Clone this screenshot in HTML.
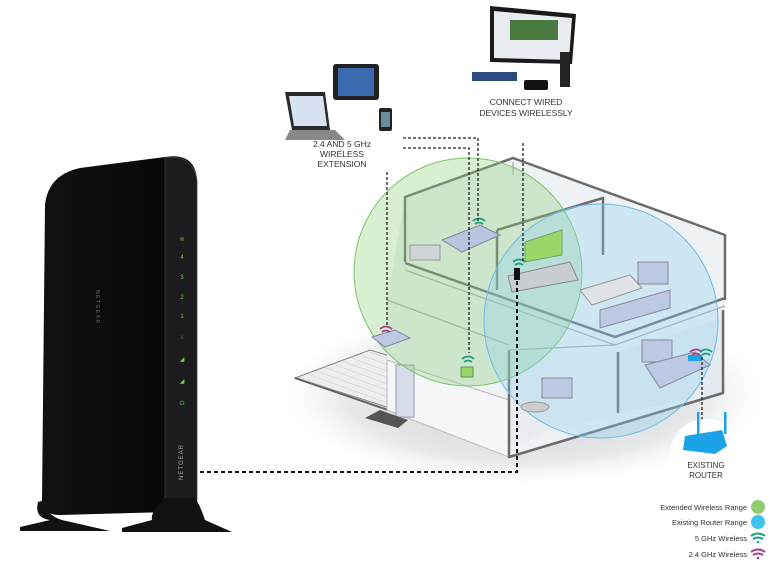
<!DOCTYPE html>
<html><head><style>
html,body{margin:0;padding:0;background:#fff;width:774px;height:570px;overflow:hidden}
svg{display:block}
text{font-family:"Liberation Sans",sans-serif}
</style></head><body>
<svg width="774" height="570" viewBox="0 0 774 570" xmlns="http://www.w3.org/2000/svg">
<defs>
<radialGradient id="sh" cx="50%" cy="50%" r="50%"><stop offset="0" stop-color="#c9cdd0"/><stop offset="0.7" stop-color="#e6e8ea"/><stop offset="1" stop-color="#fff" stop-opacity="0"/></radialGradient>
<linearGradient id="rb" x1="0" x2="1"><stop offset="0" stop-color="#111"/><stop offset="1" stop-color="#050505"/></linearGradient>
<pattern id="deck" width="6" height="6" patternUnits="userSpaceOnUse" patternTransform="rotate(20)"><rect width="6" height="6" fill="#eceeef"/><line x1="0" y1="0" x2="6" y2="0" stroke="#c8cbce" stroke-width="1"/></pattern>
</defs>
<!-- ground shadow -->
<ellipse cx="525" cy="395" rx="255" ry="95" fill="url(#sh)"/>
<!-- deck -->
<polygon points="295,378 370,350 390,356 390,408 365,400" fill="url(#deck)" stroke="#888"/>
<line x1="295" y1="378" x2="388" y2="410" stroke="#666" stroke-width="2"/>
<!-- house interior fill -->
<polygon points="405,197 513,158 725,235 725,393 509,457 387,410 387,300" fill="#eff2f4"/>
<polygon points="387,360 509,400 509,457 387,410" fill="#f5f6f7" stroke="#bbb"/>
<polygon points="509,350 618,352 618,413 509,445" fill="#e9edf1"/>
<polygon points="618,352 723,318 723,393 618,413" fill="#e6ebf0"/>
<rect x="396" y="365" width="18" height="52" fill="#d6dde8" stroke="#99a"/>
<polygon points="365,418 380,410 408,420 398,428" fill="#555"/>
<!-- house lines -->
<g stroke="#6b6b6b" stroke-width="2.5" fill="none" stroke-linejoin="round">
<polyline points="405,262 405,197 513,158 725,235 725,300"/>
<polyline points="405,263 615,337 725,298"/>
<polyline points="509,350 509,457 723,393 723,310"/>
<line x1="618" y1="352" x2="618" y2="413"/>
<line x1="497" y1="230" x2="497" y2="290"/>
<polyline points="497,230 603,198 603,255"/>
</g>
<g stroke="#aaa" stroke-width="1.2" fill="none">
<polyline points="405,270 615,345 725,306"/>
<polyline points="513,162 513,175"/>
<line x1="387" y1="300" x2="509" y2="345"/>
<line x1="509" y1="350" x2="615" y2="345"/>
</g>
<!-- range circles -->
<circle cx="468" cy="272" r="114" fill="#8fd27f" fill-opacity="0.35" stroke="#7cc46c" stroke-width="1"/>
<circle cx="601" cy="321" r="117" fill="#8fd0f0" fill-opacity="0.33" stroke="#6bbde6" stroke-width="1"/>
<!-- furniture hints -->
<polygon points="442,240 480,225 500,235 462,252" fill="#b8c4e0" stroke="#889"/>
<rect x="410" y="245" width="30" height="15" fill="#d0d4d8" stroke="#999"/>
<polygon points="525,242 562,230 562,255 525,262" fill="#9ad66a" stroke="#6a6"/>
<polygon points="508,276 570,262 578,280 512,292" fill="#c8cdd2" stroke="#888"/>
<polygon points="580,290 630,275 642,288 592,305" fill="#dfe3e8" stroke="#999"/>
<polygon points="600,310 670,290 670,308 600,328" fill="#bcc8e4" stroke="#889"/>
<rect x="638" y="262" width="30" height="22" fill="#bcc8e4" stroke="#889"/>
<rect x="642" y="340" width="30" height="22" fill="#bcc8e4" stroke="#889"/>
<polygon points="645,365 695,352 710,365 660,388" fill="#bcc8e4" stroke="#889"/>
<rect x="542" y="378" width="30" height="20" fill="#bcc8e4" stroke="#889"/>
<ellipse cx="535" cy="407" rx="14" ry="5" fill="#ccc" stroke="#999"/>
<polygon points="372,337 395,330 410,338 385,347" fill="#bcc8e4" stroke="#889"/>
<rect x="461" y="367" width="12" height="10" fill="#9ad66a" stroke="#595"/>
<rect x="688" y="355" width="14" height="6" fill="#1aa3e8"/>
<rect x="514" y="268" width="6" height="12" fill="#111"/>
<!-- wifi icons -->
<g fill="none" stroke-width="1.8">
<path d="M473,221 q6,-5 12,0 M475,224 q4,-3 8,0" stroke="#1aa080"/>
<path d="M513,262 q6,-5 12,0 M515,265 q4,-3 8,0" stroke="#1aa080"/>
<path d="M462,359 q6,-5 12,0 M464,362 q4,-3 8,0" stroke="#1aa080"/>
<path d="M380,329 q6,-5 12,0 M382,332 q4,-3 8,0" stroke="#a0408a"/>
<path d="M690,352 q6,-5 12,0 M692,355 q4,-3 8,0" stroke="#a0408a"/>
<path d="M700,352 q6,-5 12,0 M702,355 q4,-3 8,0" stroke="#1aa080"/>
</g>
<!-- dotted connectors -->
<g fill="none" stroke="#222" stroke-width="1.3" stroke-dasharray="3,2">
<polyline points="403,138 478,138 478,222"/>
<polyline points="403,148 469,148 469,353"/>
<line x1="387" y1="167" x2="387" y2="327"/>
<line x1="523" y1="143" x2="523" y2="262"/>
<line x1="702" y1="357" x2="702" y2="420"/>
</g>
<polyline points="200,472 517,472 517,280" fill="none" stroke="#111" stroke-width="2" stroke-dasharray="4,3"/>
<!-- label circles -->
<circle cx="342" cy="128" r="62" fill="#fff"/>
<circle cx="524" cy="68" r="58" fill="#fff"/>
<circle cx="706" cy="455" r="36" fill="#fff"/>
<!-- laptop -->
<polygon points="285,92 325,92 330,130 292,130" fill="#2a2a2a"/>
<polygon points="289,96 323,96 327,126 294,126" fill="#d8e2f0"/>
<polygon points="290,130 335,130 345,140 285,140" fill="#888"/>
<!-- tablet -->
<rect x="333" y="64" width="46" height="36" rx="3" fill="#222"/>
<rect x="338" y="68" width="36" height="28" fill="#3a6ab0"/>
<rect x="379" y="108" width="13" height="23" rx="2" fill="#222"/>
<rect x="381" y="112" width="9" height="15" fill="#6a8aa0"/>
<text x="342" y="147" font-size="8.5" text-anchor="middle" fill="#333">2.4 AND 5 GHz</text>
<text x="342" y="157" font-size="8.5" text-anchor="middle" fill="#333">WIRELESS</text>
<text x="342" y="167" font-size="8.5" text-anchor="middle" fill="#333">EXTENSION</text>
<!-- TV & devices -->
<polygon points="490,6 576,14 572,64 490,62" fill="#1a1a1a"/>
<polygon points="494,11 572,18 569,60 494,58" fill="#e8ecf0"/>
<rect x="510" y="20" width="48" height="20" fill="#4a7a40"/>
<rect x="472" y="72" width="45" height="9" fill="#2a4a80"/>
<rect x="524" y="80" width="24" height="10" rx="2" fill="#111"/>
<rect x="560" y="52" width="10" height="35" fill="#222"/>
<text x="526" y="105" font-size="8.5" text-anchor="middle" fill="#333">CONNECT WIRED</text>
<text x="526" y="116" font-size="8.5" text-anchor="middle" fill="#333">DEVICES WIRELESSLY</text>
<!-- existing router -->
<rect x="697" y="412" width="2.5" height="22" fill="#1aa3e8"/>
<rect x="724" y="412" width="2.5" height="22" fill="#1aa3e8"/>
<path d="M685,436 L722,430 L727,446 L715,454 L683,450 Z" fill="#1aa3e8"/>
<text x="706" y="468" font-size="8" text-anchor="middle" fill="#333">EXISTING</text>
<text x="706" y="478" font-size="8" text-anchor="middle" fill="#333">ROUTER</text>
<!-- legend -->
<g font-size="7.5" fill="#333" text-anchor="end">
<text x="747" y="510">Extended Wireless Range</text>
<text x="747" y="525">Existing Router Range</text>
<text x="747" y="541">5 GHz Wireless</text>
<text x="747" y="557">2.4 GHz Wireless</text>
</g>
<circle cx="758" cy="507" r="7" fill="#8fce6f"/>
<circle cx="758" cy="522" r="7" fill="#3cc3f0"/>
<path d="M751,536 q7,-5 14,0 M753,539 q5,-3 10,0" stroke="#1aa080" stroke-width="2" fill="none"/><circle cx="758" cy="542" r="1.3" fill="#1aa080"/>
<path d="M751,552 q7,-5 14,0 M753,555 q5,-3 10,0" stroke="#a0408a" stroke-width="2" fill="none"/><circle cx="758" cy="558" r="1.3" fill="#a0408a"/>
<!-- NETGEAR extender -->
<path d="M45,205 Q48,175 80,168 L165,157 Q195,152 197,180 L197,500 Q196,510 170,512 L60,515 Q42,515 42,500 Z" fill="url(#rb)"/>
<path d="M165,158 Q192,153 197,180 L197,500 Q196,510 175,511 L165,511 Z" fill="#1c1c1e" stroke="#444" stroke-width="0.8"/>
<line x1="165" y1="160" x2="165" y2="510" stroke="#333"/>
<g fill="#6ed23c" font-size="6" text-anchor="middle">
<text x="182" y="241">≋</text><text x="182" y="259">4</text><text x="182" y="279">3</text><text x="182" y="299">2</text><text x="182" y="318">1</text><text x="182" y="339">ı</text><text x="182" y="361">◢</text><text x="182" y="383">◢</text><text x="182" y="405">⏻</text>
</g>
<text x="0" y="0" font-size="6" fill="#aaa" transform="translate(183,480) rotate(-90)" letter-spacing="1">NETGEAR</text>
<text x="0" y="0" font-size="5" fill="#666" transform="translate(96,290) rotate(90)" letter-spacing="1.5">NETGEAR</text>
<!-- stand -->
<path d="M38,502 Q34,518 50,520 L20,527 L20,531 L110,531 L62,520 Q45,515 45,500 Z" fill="#111"/>
<path d="M165,498 Q150,512 152,520 L122,528 L122,532 L232,532 L205,520 Q200,505 195,498 Z" fill="#111"/>
</svg>
</body></html>
